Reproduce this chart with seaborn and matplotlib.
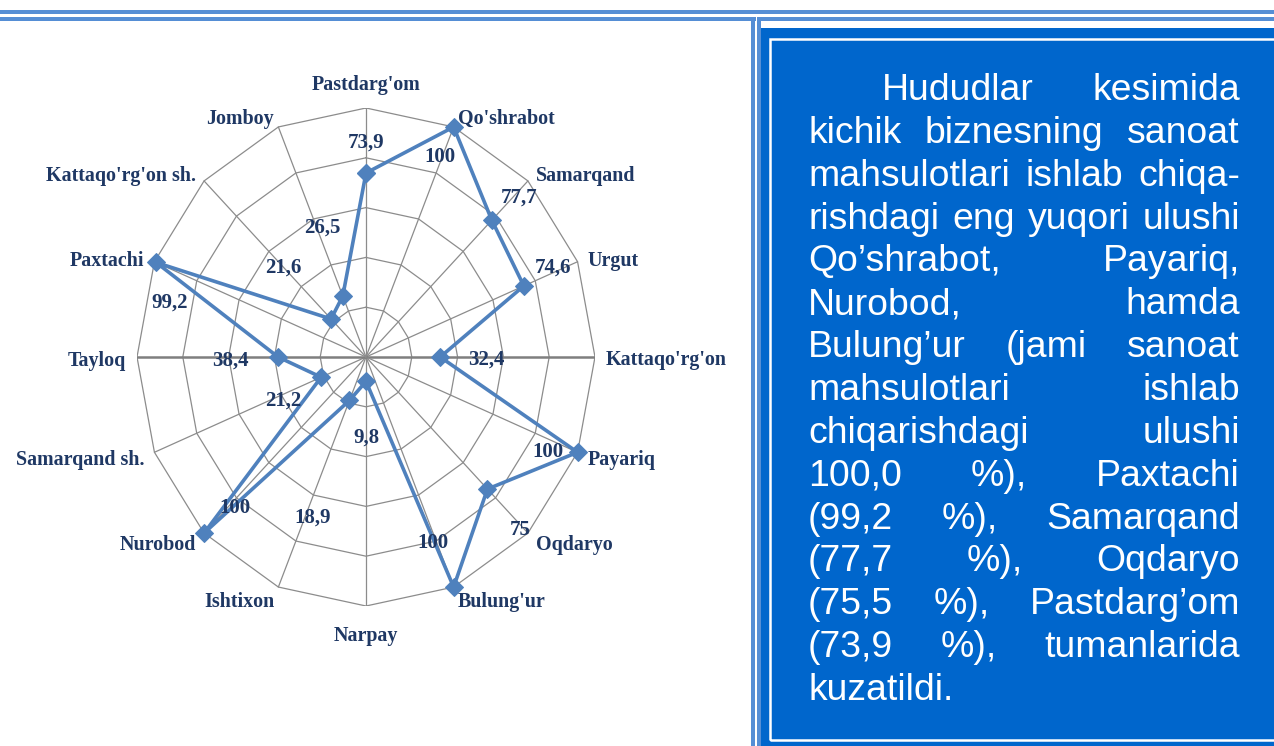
import numpy as np
import pandas as pd
import seaborn as sns
import matplotlib.pyplot as plt
from matplotlib.patches import Rectangle

# Data (shares of industrial output by district, %)
REGIONS = ["Pastdarg'om", "Qo'shrabot", "Samarqand", "Urgut", "Kattaqo'rg'on",
           "Payariq", "Oqdaryo", "Bulung'ur", "Narpay", "Ishtixon", "Nurobod",
           "Samarqand sh.", "Tayloq", "Paxtachi", "Kattaqo'rg'on sh.", "Jomboy"]
SHARE = [73.9, 100, 77.7, 74.6, 32.4, 100, 75, 100,
         9.8, 18.9, 100, 21.2, 38.4, 99.2, 21.6, 26.5]
VALUE_LABELS = ["73,9", "100", "77,7", "74,6", "32,4", "100", "75", "100",
                "9,8", "18,9", "100", "21,2", "38,4", "99,2", "21,6", "26,5"]
RINGS = [20, 40, 60, 80, 100]

TEXT_LINES = [
    "Hududlar kesimida",
    "kichik biznesning sanoat",
    "mahsulotlari ishlab chiqa-",
    "rishdagi eng yuqori ulushi",
    "Qo\u2019shrabot, Payariq,",
    "Nurobod, hamda",
    "Bulung\u2019ur (jami sanoat",
    "mahsulotlari ishlab",
    "chiqarishdagi ulushi",
    "100,0 %), Paxtachi",
    "(99,2 %), Samarqand",
    "(77,7 %), Oqdaryo",
    "(75,5 %), Pastdarg\u2019om",
    "(73,9 %), tumanlarida",
    "kuzatildi.",
]

# label offsets in pixels (x right, y down), style only
LABEL_OFFSETS = [(0, -30), (-14, 30), (27, -23), (29, -18), (46, 3), (-30, 0),
                 (33, 41), (-21, -44), (0, 56), (-37, 117), (31, -25), (-38, 23),
                 (-48, 4), (14, 40), (-48, -51), (-20, -68)]

W, H = 1274, 746
LINE_BLUE = "#4F81BD"
TEXT_NAVY = "#1F3864"
FRAME_BLUE = "#558ED5"
BOX_BLUE = "#0066CC"

sns.set_style("white")
fig = plt.figure(figsize=(W / 100, H / 100), dpi=100)
fig.patch.set_facecolor("white")


def px_rect(x0, y0, x1, y1, **kw):
    return Rectangle((x0 / W, 1 - y1 / H), (x1 - x0) / W, (y1 - y0) / H,
                     transform=fig.transFigure, **kw)


# frame lines and text box
for r in [(0, 10, W, 14), (0, 17, 756, 21), (757, 17, W, 21),
          (751, 17, 755, H), (757, 17, 761, H)]:
    fig.add_artist(px_rect(*r, facecolor=FRAME_BLUE, edgecolor="none"))
fig.add_artist(px_rect(761, 28, W, H, facecolor=BOX_BLUE, edgecolor="none"))
fig.add_artist(px_rect(770, 38.5, W + 10, 739.5, facecolor="none",
                       edgecolor="white", linewidth=1.8))

# radar chart on cartesian axes (x = r sin t, y = r cos t)
ax = fig.add_axes([137 / W, (H - 606) / H, 458 / W, 498 / H])
ax.set_xlim(-100, 100)
ax.set_ylim(-100, 100)
ax.axis("off")

n = len(REGIONS)
theta = np.arange(n) * 2 * np.pi / n
closed = np.append(theta, theta[0])
for ring in RINGS:
    ax.plot(ring * np.sin(closed), ring * np.cos(closed), color="#8C8C8C",
            linewidth=0.9, zorder=1)
for i, t in enumerate(theta):
    horiz = abs(np.cos(t)) < 1e-6
    ax.plot([0, 100 * np.sin(t)], [0, 100 * np.cos(t)],
            color="#7F7F7F" if horiz else "#8C8C8C",
            linewidth=1.8 if horiz else 0.9, zorder=1)

df = pd.DataFrame({"region": REGIONS + REGIONS[:1],
                   "share": SHARE + SHARE[:1],
                   "theta": closed})
df["x"] = df["share"] * np.sin(df["theta"])
df["y"] = df["share"] * np.cos(df["theta"])
sns.lineplot(data=df, x="x", y="y", sort=False, estimator=None, ax=ax,
             color=LINE_BLUE, linewidth=2.6, marker="D", markersize=9,
             markeredgecolor=LINE_BLUE, zorder=3)
ax.set_xlim(-100, 100)
ax.set_ylim(-100, 100)
ax.axis("off")

serif = {"family": "Liberation Serif", "weight": "bold", "color": TEXT_NAVY}

# value labels
for i in range(n):
    dx, dy = LABEL_OFFSETS[i]
    ax.annotate(VALUE_LABELS[i], xy=(df["x"][i], df["y"][i]), xytext=(dx, -dy),
                textcoords="offset pixels", ha="center", va="center",
                fontsize=15, zorder=4, annotation_clip=False, **serif)

# category labels
for i, name in enumerate(REGIONS):
    t = theta[i]
    s, c = np.sin(t), np.cos(t)
    if abs(s) < 1e-6:
        ha = "center"
        dx, dy = 0, (-23 if c > 0 else 30)
    else:
        ha = "left" if s > 0 else "right"
        dx, dy = 11 * s, 3.5 - 12 * c
    ax.annotate(name, xy=(100 * s, 100 * c), xytext=(dx, -dy),
                textcoords="offset pixels", ha=ha, va="center",
                fontsize=14.4, annotation_clip=False, **serif)

# justified paragraph in the blue box
renderer = fig.canvas.get_renderer()
X0, X1 = 808, 1240
BASE0, STEP = 100, 42.86
sans = {"family": "Liberation Sans", "fontsize": 26.9, "color": "white"}
for k, line in enumerate(TEXT_LINES):
    words = line.split(" ")
    y = 1 - (BASE0 + k * STEP) / H
    left = 882 if k == 0 else X0
    arts = [fig.text(0, y, w, va="baseline", ha="left", **sans) for w in words]
    widths = [a.get_window_extent(renderer).width for a in arts]
    last = k == len(TEXT_LINES) - 1
    if len(words) > 1 and not last:
        gap = (X1 - left - sum(widths)) / (len(words) - 1)
    else:
        gap = 9
    x = left
    for a, wd in zip(arts, widths):
        a.set_x(x / W)
        x += wd + gap

fig.savefig("out.png", dpi=100)
